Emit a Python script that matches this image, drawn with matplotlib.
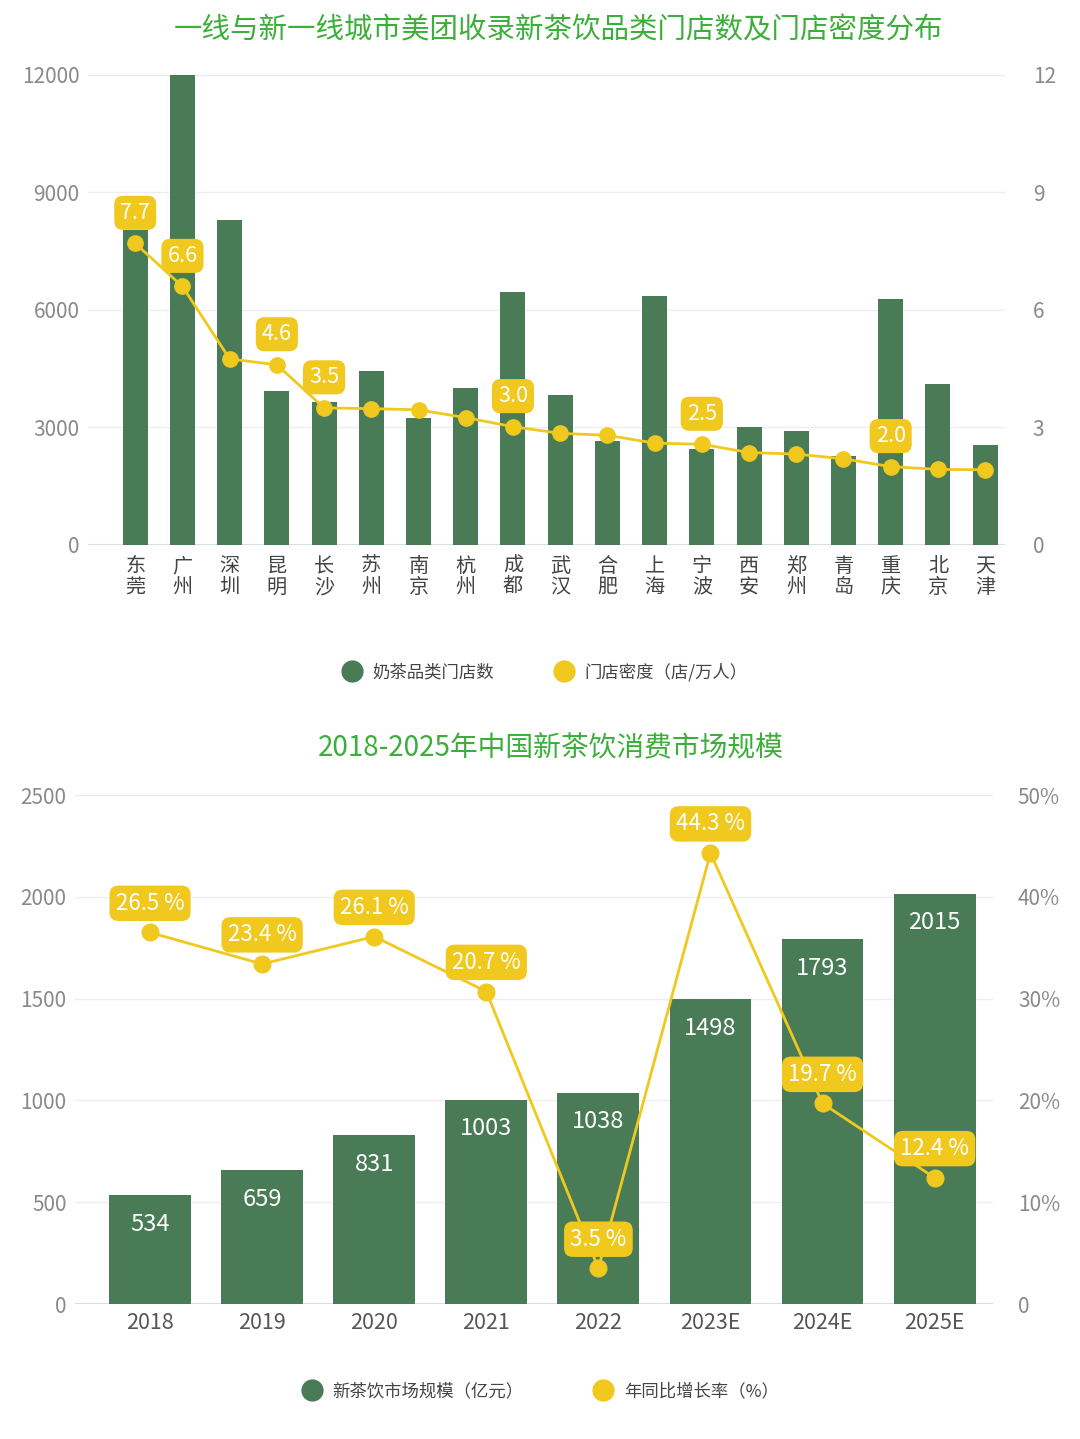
import matplotlib.pyplot as plt
from matplotlib.lines import Line2D

plt.rcParams['font.family'] = ['Noto Sans CJK SC', 'DejaVu Sans']

# --- chart 1: stores & density per city ---
cities = ['东莞', '广州', '深圳', '昆明', '长沙', '苏州', '南京', '杭州', '成都', '武汉',
          '合肥', '上海', '宁波', '西安', '郑州', '青岛', '重庆', '北京', '天津']
store_counts = [8050, 12000, 8300, 3930, 3650, 4450, 3240, 4020, 6460, 3830,
                2660, 6360, 2460, 3000, 2920, 2280, 6280, 4120, 2550]
density = [7.7, 6.6, 4.75, 4.6, 3.5, 3.48, 3.45, 3.25, 3.02, 2.85,
           2.8, 2.6, 2.57, 2.36, 2.32, 2.2, 2.0, 1.93, 1.92]
density_labels = ['7.7', '6.6', '', '4.6', '3.5', '', '', '', '3.0', '',
                  '', '', '2.5', '', '', '', '2.0', '', '']

# --- chart 2: market size ---
years = ['2018', '2019', '2020', '2021', '2022', '2023E', '2024E', '2025E']
market_size = [534, 659, 831, 1003, 1038, 1498, 1793, 2015]
growth_plotted = [36.5, 33.4, 36.1, 30.7, 3.5, 44.3, 19.7, 12.4]
growth_labels = ['26.5 %', '23.4 %', '26.1 %', '20.7 %', '3.5 %', '44.3 %', '19.7 %', '12.4 %']

GREEN = '#4a7b57'
YELLOW = '#f0c81e'
TITLE_GREEN = '#3cae3a'
TICK_GRAY = '#8a8a8a'

fig = plt.figure(figsize=(10.8, 14.39), dpi=100)


def style_axes(ax1, ax2):
    for a in (ax1, ax2):
        for s in a.spines.values():
            s.set_visible(False)
        a.tick_params(length=0)
    ax1.grid(axis='y', color='#eeeeee', lw=1)
    ax1.set_axisbelow(True)
    ax1.axhline(0, color='#dddddd', lw=1.5, zorder=1)


box = dict(boxstyle='round,pad=0.28,rounding_size=0.4', fc=YELLOW, ec='none')

# ---------------- top chart ----------------
ax1 = fig.add_axes([0.0815, 0.6213, 0.849, 0.3266])
ax2 = ax1.twinx()
x1 = list(range(len(cities)))
ax1.bar(x1, store_counts, width=0.53, color=GREEN, zorder=2)
ax1.set_ylim(0, 12000)
ax1.set_yticks([0, 3000, 6000, 9000, 12000])
ax1.set_xlim(-1.0, 18.42)
ax1.set_xticks(x1)
ax1.set_xticklabels(['\n'.join(c) for c in cities], fontsize=14.5, color='#444444', linespacing=1.0)
ax1.tick_params(axis='x', pad=8)
ax1.tick_params(axis='y', labelsize=15, labelcolor=TICK_GRAY, pad=6)

ax2.plot(x1, density, color=YELLOW, lw=2, marker='o', ms=11, zorder=3)
ax2.set_ylim(0, 12)
ax2.set_yticks([0, 3, 6, 9, 12])
ax2.tick_params(axis='y', labelsize=15, labelcolor=TICK_GRAY, pad=20)
for xi, yi, lab in zip(x1, density, density_labels):
    if lab:
        ax2.annotate(lab, (xi, yi), xytext=(0, 22), textcoords='offset points',
                     ha='center', va='center', color='white', fontsize=15.5, bbox=box)
style_axes(ax1, ax2)

fig.text(0.517, 0.979, '一线与新一线城市美团收录新茶饮品类门店数及门店密度分布',
         ha='center', va='center', fontsize=20.5, color=TITLE_GREEN)

h1 = [Line2D([], [], ls='none', marker='o', ms=15, color=GREEN),
      Line2D([], [], ls='none', marker='o', ms=15, color=YELLOW)]
fig.legend(h1, ['奶茶品类门店数', '门店密度（店/万人）'], loc='center',
           bbox_to_anchor=(0.501, 0.533), ncol=2, frameon=False, fontsize=12.5,
           handletextpad=0.2, columnspacing=3.0, labelcolor='#444444')

# ---------------- bottom chart ----------------
bx1 = fig.add_axes([0.0694, 0.0938, 0.85, 0.3537])
bx2 = bx1.twinx()
x2 = list(range(len(years)))
bx1.bar(x2, market_size, width=0.73, color=GREEN, zorder=2)
bx1.set_ylim(0, 2500)
bx1.set_yticks([0, 500, 1000, 1500, 2000, 2500])
bx1.set_xlim(-0.67, 7.52)
bx1.set_xticks(x2)
bx1.set_xticklabels(years, fontsize=15.5, color='#555555')
bx1.tick_params(axis='x', pad=6)
bx1.tick_params(axis='y', labelsize=15, labelcolor=TICK_GRAY, pad=6)
for xi, v in zip(x2, market_size):
    bx1.annotate(str(v), (xi, v), xytext=(0, -21), textcoords='offset points',
                 ha='center', va='center', color='white', fontsize=17, zorder=3)

bx2.plot(x2, growth_plotted, color=YELLOW, lw=2, marker='o', ms=12, zorder=3)
bx2.set_ylim(0, 50)
bx2.set_yticks([0, 10, 20, 30, 40, 50])
bx2.set_yticklabels(['0', '10%', '20%', '30%', '40%', '50%'])
bx2.tick_params(axis='y', labelsize=15, labelcolor=TICK_GRAY, pad=18)
for xi, yi, lab in zip(x2, growth_plotted, growth_labels):
    bx2.annotate(lab, (xi, yi), xytext=(0, 21), textcoords='offset points',
                 ha='center', va='center', color='white', fontsize=16, bbox=box)
style_axes(bx1, bx2)

fig.text(0.51, 0.48, '2018-2025年中国新茶饮消费市场规模',
         ha='center', va='center', fontsize=20, color=TITLE_GREEN)

h2 = [Line2D([], [], ls='none', marker='o', ms=15, color=GREEN),
      Line2D([], [], ls='none', marker='o', ms=15, color=YELLOW)]
fig.legend(h2, ['新茶饮市场规模（亿元）', '年同比增长率（%）'], loc='center',
           bbox_to_anchor=(0.497, 0.033), ncol=2, frameon=False, fontsize=12.5,
           handletextpad=0.2, columnspacing=3.6, labelcolor='#444444')

fig.savefig('out.png', dpi=100, facecolor='white')
